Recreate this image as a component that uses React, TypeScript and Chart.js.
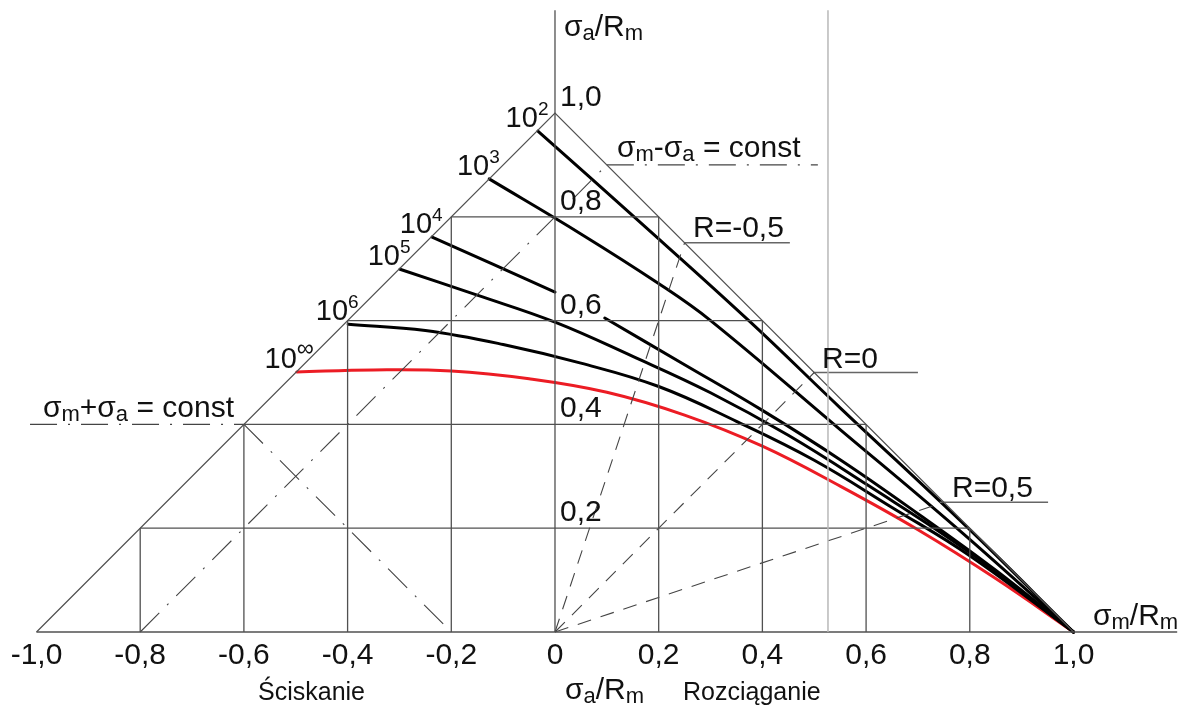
import React, { useEffect, useRef } from "react";
import { Chart, registerables } from "chart.js";

Chart.register(...registerables);

type P = [number, number];

// ---- fatigue curves: [σm/Rm, σa/Rm] ----
const curveN2: P[] = [[-0.033, 0.965], [0.158, 0.795], [0.376, 0.598], [0.55, 0.432], [0.797, 0.2], [1, 0]];
const curveN3: P[] = [[-0.127, 0.873], [0.05, 0.767], [0.199, 0.672], [0.299, 0.601], [0.55, 0.39], [0.775, 0.2], [1, 0]];
const curveN4a: P[] = [[-0.237, 0.761], [-0.12, 0.709], [0, 0.655]];
const curveN4b: P[] = [[0.096, 0.605], [0.25, 0.515], [0.4, 0.427], [0.55, 0.332], [0.7, 0.228], [0.85, 0.119], [1, 0]];
const curveN5: P[] = [[-0.299, 0.699], [-0.15, 0.649], [0, 0.597], [0.15, 0.531], [0.3, 0.461], [0.45, 0.379], [0.6, 0.285], [0.8, 0.153], [1, 0]];
const curveN6: P[] = [[-0.399, 0.593], [-0.25, 0.581], [-0.1, 0.554], [0.05, 0.518], [0.2, 0.473], [0.35, 0.406], [0.5, 0.331], [0.65, 0.24], [0.8, 0.147], [1, 0]];
const curveInf: P[] = [[-0.498, 0.501], [-0.35, 0.505], [-0.2, 0.503], [-0.05, 0.488], [0.1, 0.462], [0.25, 0.418], [0.4, 0.358], [0.55, 0.281], [0.7, 0.197], [0.85, 0.103], [1, 0]];

// ---- construction lines ----
const triangleEdge: P[] = [[-1, 0], [0, 1], [1, 0]];
const axisX: P[] = [[-1, 0], [1.2, 0]];
const axisY: P[] = [[0, 0], [0, 1.198]];
const markerLine: P[] = [[0.5265, 0], [0.5265, 1.198]];
const gridH: P[][] = [
  [[-0.8, 0.2], [0.8, 0.2]],
  [[-0.6, 0.4], [0.6, 0.4]],
  [[-0.4, 0.6], [0.4, 0.6]],
  [[-0.2, 0.8], [0.2, 0.8]],
];
const gridV: P[][] = [
  [[-0.8, 0], [-0.8, 0.2]], [[-0.6, 0], [-0.6, 0.4]], [[-0.4, 0], [-0.4, 0.6]], [[-0.2, 0], [-0.2, 0.8]],
  [[0.2, 0], [0.2, 0.8]], [[0.4, 0], [0.4, 0.6]], [[0.6, 0], [0.6, 0.4]], [[0.8, 0], [0.8, 0.2]],
];
const dashDotLines: P[][] = [
  [[-0.8, 0], [0.1, 0.9]],
  [[-0.6, 0.4], [-0.2, 0]],
  [[-1.0125, 0.4], [-0.6, 0.4]],
  [[0.1, 0.9], [0.507, 0.9]],
];
const rRays: P[][] = [
  [[0, 0], [0.25, 0.75]],
  [[0, 0], [0.5, 0.5]],
  [[0, 0], [0.75, 0.25]],
];
const rUnderlines: P[][] = [
  [[0.25, 0.75], [0.453, 0.75]],
  [[0.498, 0.5], [0.7, 0.5]],
  [[0.742, 0.25], [0.951, 0.25]],
];

// ---- labels ----
const xTickValues = [-1, -0.8, -0.6, -0.4, -0.2, 0, 0.2, 0.4, 0.6, 0.8, 1];
const xTickLabels = ["-1,0", "-0,8", "-0,6", "-0,4", "-0,2", "0", "0,2", "0,4", "0,6", "0,8", "1,0"];
const yTickValues = [0.2, 0.4, 0.6, 0.8, 1];
const yTickLabels = ["0,2", "0,4", "0,6", "0,8", "1,0"];
const cycleStarts: P[] = [curveN2[0], curveN3[0], curveN4a[0], curveN5[0], curveN6[0], curveInf[0]];
const cycleExponents = ["2", "3", "4", "5", "6", "∞"];
const rLabels = ["R=-0,5", "R=0", "R=0,5"];

const X_MIN = -1.0704, X_MAX = 1.2093, Y_MIN = -0.1522, Y_MAX = 1.2177;
const FONT = '"Liberation Sans", Arial, sans-serif';

const pts = (a: P[]) => a.map(([x, y]) => ({ x, y }));

function seg(data: P[], color: string, width: number, dash: number[] = []) {
  return {
    data: pts(data), showLine: true, borderColor: color, borderWidth: width, borderDash: dash,
    pointRadius: 0, fill: false, tension: 0, borderCapStyle: "butt",
  } as any;
}
function curve(data: P[], color: string) {
  return {
    data: pts(data), showLine: true, borderColor: color, borderWidth: 3, pointRadius: 0,
    fill: false, tension: 0.4, borderCapStyle: "round", borderJoinStyle: "round",
  } as any;
}

type Part = [string, "n" | "sub" | "sup"];
function rich(ctx: CanvasRenderingContext2D, parts: Part[], x: number, y: number, size: number, small: number) {
  let cx = x;
  for (const [t, k] of parts) {
    ctx.font = `${k === "n" ? size : small}px ${FONT}`;
    const dy = k === "sub" ? 4 : k === "sup" ? -12 : 0;
    ctx.fillText(t, cx, y + dy);
    cx += ctx.measureText(t).width;
  }
}

const textPlugin = {
  id: "texts",
  afterDatasetsDraw(chart: any) {
    const ctx: CanvasRenderingContext2D = chart.ctx;
    const xs = chart.scales.x, ys = chart.scales.y;
    const px = (v: number) => xs.getPixelForValue(v);
    const py = (v: number) => ys.getPixelForValue(v);
    ctx.save();
    ctx.fillStyle = "#111";
    ctx.textBaseline = "alphabetic";

    // x ticks
    ctx.font = `30px ${FONT}`;
    ctx.textAlign = "center";
    xTickValues.forEach((v, i) => ctx.fillText(xTickLabels[i], px(v), py(0) + 32));
    // y ticks
    ctx.textAlign = "left";
    yTickValues.forEach((v, i) => ctx.fillText(yTickLabels[i], px(0) + 5, py(v) - 7));

    // cycle labels 10^N
    cycleStarts.forEach(([sx, sy], i) => {
      const x0 = px(sx), y0 = py(sy) - 4;
      ctx.font = `29px ${FONT}`;
      ctx.textAlign = "right";
      ctx.fillText("10", x0, y0);
      ctx.textAlign = "left";
      ctx.font = `${cycleExponents[i] === "∞" ? 24 : 19}px ${FONT}`;
      ctx.fillText(cycleExponents[i], x0, y0 - 12);
    });

    ctx.textAlign = "left";
    // axis titles
    const sa: Part[] = [["σ", "n"], ["a", "sub"], ["/R", "n"], ["m", "sub"]];
    const sm: Part[] = [["σ", "n"], ["m", "sub"], ["/R", "n"], ["m", "sub"]];
    rich(ctx, sa, px(0.0174), py(1.148), 30, 22);
    rich(ctx, sm, px(1.0376), py(0.0135), 30, 22);
    rich(ctx, sa, px(0.0193), py(-0.129), 30, 22);

    // const labels
    rich(ctx, [["σ", "n"], ["m", "sub"], ["-σ", "n"], ["a", "sub"], [" = const", "n"]], px(0.1196), py(0.9152), 30, 22);
    rich(ctx, [["σ", "n"], ["m", "sub"], ["+σ", "n"], ["a", "sub"], [" = const", "n"]], px(-0.9875), py(0.4143), 30, 22);

    // R labels
    ctx.font = `30px ${FONT}`;
    ctx.fillText(rLabels[0], px(0.2662), py(0.761));
    ctx.fillText(rLabels[1], px(0.515), py(0.5087));
    ctx.fillText(rLabels[2], px(0.7657), py(0.2601));

    // bottom captions
    ctx.font = `25px ${FONT}`;
    ctx.fillText("Ściskanie", px(-0.5728), py(-0.131));
    ctx.fillText("Rozciąganie", px(0.2469), py(-0.131));
    ctx.restore();
  },
};

export default function App() {
  const ref = useRef<HTMLCanvasElement>(null);
  useEffect(() => {
    document.body.style.margin = "0";
    const canvas = ref.current!;
    const thin = "#505050";
    const dd = [27, 11, 2, 11];
    const datasets: any[] = [
      seg(markerLine, "#b8b8b8", 1.5),
      ...gridH.map((g) => seg(g, thin, 1.3)),
      ...gridV.map((g) => seg(g, thin, 1.3)),
      seg(triangleEdge, thin, 1.2),
      seg(axisX, thin, 1.5),
      seg(axisY, thin, 1.3),
      ...dashDotLines.map((g) => seg(g, "#444", 1.1, dd)),
      ...rRays.map((g) => seg(g, "#444", 1.1, [14, 10])),
      ...rUnderlines.map((g) => seg(g, "#666", 1.5)),
      curve(curveN2, "#000"),
      curve(curveN3, "#000"),
      curve(curveN4a, "#000"),
      curve(curveN4b, "#000"),
      curve(curveN5, "#000"),
      curve(curveN6, "#000"),
      curve(curveInf, "#ec1c24"),
    ];
    const chart = new Chart(canvas, {
      type: "scatter",
      data: { datasets },
      options: {
        animation: false,
        responsive: false,
        devicePixelRatio: 1,
        events: [],
        layout: { padding: 0 },
        plugins: { legend: { display: false }, tooltip: { enabled: false } },
        scales: {
          x: { type: "linear", display: false, min: X_MIN, max: X_MAX },
          y: { type: "linear", display: false, min: Y_MIN, max: Y_MAX },
        },
      },
      plugins: [textPlugin],
    } as any);
    return () => chart.destroy();
  }, []);
  return (
    <div style={{ width: 1182, height: 711 }}>
      <canvas ref={ref} width={1182} height={711} style={{ display: "block" }} />
    </div>
  );
}
